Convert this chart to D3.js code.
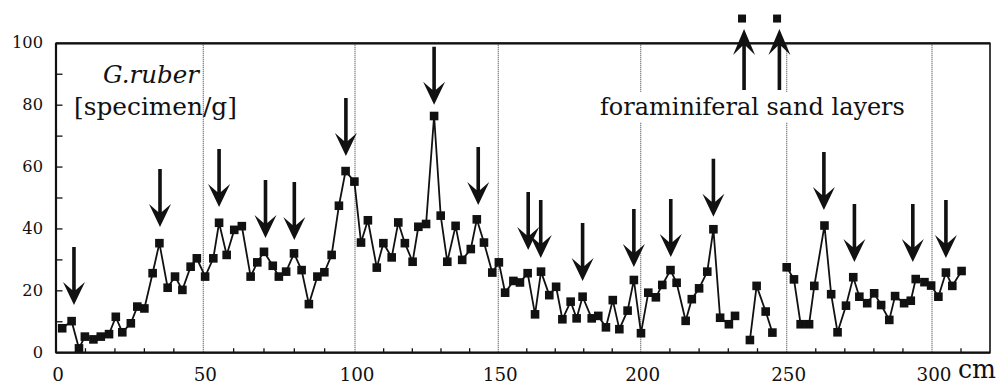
<!DOCTYPE html>
<html>
<head>
<meta charset="utf-8">
<script src="https://cdn.jsdelivr.net/npm/d3@7/dist/d3.min.js"></script>
<style>
  html, body { margin: 0; padding: 0; background: #fff; }
  svg { display: block; }
  text { font-family: "DejaVu Serif", "Liberation Serif", serif; fill: #111; }
</style>
</head>
<body>
<svg id="chart" width="1003" height="385"></svg>
<script>
// ---- data (depth in cm, G. ruber specimens per gram) ----
const depth = [2.1,5.3,7.8,9.8,12.7,15.2,18.0,20.3,22.5,25.4,27.6,30.0,32.8,35.1,37.9,40.4,42.9,45.7,47.8,
  50.6,53.3,55.2,57.7,60.2,62.7,65.6,67.8,70.0,72.9,74.9,77.3,79.9,82.4,84.8,87.6,89.9,92.3,94.7,96.9,99.8,
  102.1,104.5,107.6,109.9,112.8,115.1,117.4,120.1,122.1,124.8,127.6,129.9,132.2,135.1,137.4,140.4,142.5,145.0,147.9,
  150.2,152.4,155.3,157.6,160.3,162.9,165.0,167.9,170.3,172.5,175.4,177.5,179.6,182.8,185.1,187.8,190.2,192.5,195.4,197.6,200.1,
  202.6,205.2,207.4,210.2,212.3,215.4,217.5,220.0,222.8,224.9,227.2,230.2,232.3,234.7,237.4,239.7,242.8,245.1,246.7,
  250.0,252.5,254.8,257.7,259.5,263.0,265.3,267.5,270.4,272.9,275.0,277.7,280.1,282.5,285.3,287.3,290.4,292.7,294.4,297.4,299.7,
  302.2,304.8,307.0,310.2];
const ruber = [7.9,10.2,1.4,5.2,4.3,5.2,6.0,11.6,6.6,9.5,14.9,14.3,25.7,35.4,21.0,24.6,20.3,27.8,30.5,
  24.6,30.5,42.0,31.6,39.7,40.9,24.6,29.2,32.6,28.1,24.6,26.2,32.1,26.7,15.7,24.6,26.0,31.6,47.5,58.7,55.3,
  35.6,42.8,27.5,35.4,30.8,42.1,35.4,29.4,40.7,41.6,76.5,44.3,29.4,41.0,30.0,33.5,43.1,35.6,25.9,
  29.2,19.4,23.2,22.7,25.7,12.4,26.2,18.6,21.3,10.8,16.5,11.1,18.1,11.1,11.9,8.2,17.0,7.6,13.6,23.5,6.3,
  19.4,17.9,21.9,26.7,22.6,10.3,17.3,20.8,26.2,39.9,11.3,9.2,11.9,null,4.1,21.6,13.3,6.5,null,
  27.6,23.7,9.2,9.2,21.6,41.1,18.9,6.6,15.2,24.4,18.1,16.0,19.2,15.4,10.6,18.3,16.0,16.8,23.8,22.8,21.7,
  18.1,25.9,21.6,26.4];

// peaks marked with down arrows: depth (cm) and value at arrow tip
const arrowDepth = [6.1,35.3,55.2,70.5,80.0,97.0,127.6,143.0,160.5,164.9,179.6,197.6,210.3,224.9,262.8,273.3,293.4,304.8];
const arrowTip   = [15.4,40.6,47.1,37.1,36.4,63.6,80.1,47.7,33.2,30.6,23.2,27.7,30.9,43.9,46.1,29.3,29.3,30.6];

// foraminiferal sand layers (off-scale values)
const sandDepth = [234.7, 246.7];
const sandArrowDepth = [235.4, 247.5];
const sandMarkerValue = 108;
const sandArrowTip = 104.6;
const sandArrowBase = 84.9;

const xTickValues = [0, 50, 100, 150, 200, 250, 300];
const yTickValues = [0, 20, 40, 60, 80, 100];
const gridValues = [50, 100, 150, 200, 250, 300];

// ---- scales ----
const svg = d3.select("#chart");
const x = d3.scaleLinear()
  .domain([0, 50, 100, 150, 200, 250, 300, 320])
  .range([56, 203.3, 355, 498.3, 640.7, 786.7, 932, 990]);
const y = d3.scaleLinear().domain([0, 100]).range([352.7, 43.3]);

const X0 = x(0), X1 = x(320), Y0 = y(0), Y1 = y(100);

// grid lines
svg.append("g").selectAll("line").data(gridValues).join("line")
  .attr("x1", d => x(d)).attr("x2", d => x(d))
  .attr("y1", Y1).attr("y2", Y0)
  .attr("stroke", "#555").attr("stroke-width", 1.2)
  .attr("stroke-dasharray", "1,1");

// text helper with width fitting
function fitText(sel, target, base) {
  sel.style("font-size", base + "px");
  const w = sel.node().getComputedTextLength();
  sel.style("font-size", (base * target / w).toFixed(2) + "px");
  return sel;
}

// annotation label with white background (interrupts grid lines)
const sandLabel = svg.append("g");
sandLabel.append("rect").attr("x", 598).attr("y", 92).attr("width", 312).attr("height", 30).attr("fill", "#fff");
fitText(sandLabel.append("text").attr("x", 600).attr("y", 115).text("foraminiferal sand layers"), 305, 22);

fitText(svg.append("text").attr("x", 103).attr("y", 83).style("font-style", "italic").text("G.ruber"), 96, 22);
fitText(svg.append("text").attr("x", 74).attr("y", 115).text("[specimen/g]"), 163, 22);

// frame
svg.append("rect").attr("x", X0).attr("y", Y1).attr("width", X1 - X0).attr("height", Y0 - Y1)
  .attr("fill", "none").attr("stroke", "#111").attr("stroke-width", 1.6);
svg.append("line").attr("x1", X0).attr("x2", X1).attr("y1", Y1).attr("y2", Y1)
  .attr("stroke", "#111").attr("stroke-width", 2.2);
svg.append("line").attr("x1", X0).attr("x2", X1).attr("y1", Y0).attr("y2", Y0)
  .attr("stroke", "#111").attr("stroke-width", 2.2);
svg.append("line").attr("x1", X0).attr("x2", X0).attr("y1", Y1).attr("y2", Y0)
  .attr("stroke", "#111").attr("stroke-width", 2.2);

// ticks (inward)
svg.append("g").selectAll("line").data(d3.range(10, 320, 10).filter(v => v % 50 !== 0)).join("line")
  .attr("x1", d => x(d)).attr("x2", d => x(d)).attr("y1", Y0).attr("y2", Y0 - 4.5)
  .attr("stroke", "#111").attr("stroke-width", 1.3);
svg.append("g").selectAll("line").data(d3.range(10, 100, 10)).join("line")
  .attr("x1", X0).attr("x2", X0 + 6.5).attr("y1", d => y(d)).attr("y2", d => y(d))
  .attr("stroke", "#111").attr("stroke-width", 1.3);

// y tick labels
const yLab = svg.append("g").selectAll("text").data(yTickValues).join("text")
  .attr("x", 43).attr("y", d => y(d) + 5).attr("text-anchor", "end").text(d => d);
{
  const t = yLab.filter(d => d === 100);
  t.style("font-size", "16px");
  const w = t.node().getComputedTextLength();
  yLab.style("font-size", (16 * 31 / w).toFixed(2) + "px");
}
// x tick labels
const xLab = svg.append("g").selectAll("text").data(xTickValues).join("text")
  .attr("x", d => x(d) + 2).attr("y", 381).attr("text-anchor", "middle").text(d => d);
{
  const t = xLab.filter(d => d === 100);
  t.style("font-size", "17px");
  const w = t.node().getComputedTextLength();
  xLab.style("font-size", (17 * 35 / w).toFixed(2) + "px");
}
fitText(svg.append("text").attr("x", 958).attr("y", 378).text("cm"), 38, 20);

// data line
const pts = depth.map((d, i) => ({ d, v: ruber[i] }));
const line = d3.line().defined(p => p.v != null).x(p => x(p.d)).y(p => y(p.v));
svg.append("path").datum(pts).attr("d", line)
  .attr("fill", "none").attr("stroke", "#111").attr("stroke-width", 1.8);

const S = 8.6;
svg.append("g").selectAll("rect").data(pts.filter(p => p.v != null)).join("rect")
  .attr("x", p => x(p.d) - S / 2).attr("y", p => y(p.v) - S / 2)
  .attr("width", S).attr("height", S).attr("fill", "#111");

// sand layer markers
svg.append("g").selectAll("rect").data(sandDepth).join("rect")
  .attr("x", d => x(d) - 4).attr("y", y(sandMarkerValue) - 4)
  .attr("width", 8).attr("height", 8).attr("fill", "#111");

// arrows
const arrowLen = 58;
function downArrow(tx, ty) {
  return `M${tx},${ty} L${tx - 11},${ty - 23} L${tx - 1.8},${ty - 15} L${tx - 1.8},${ty - arrowLen} ` +
         `L${tx + 1.8},${ty - arrowLen} L${tx + 1.8},${ty - 15} L${tx + 11},${ty - 23} Z`;
}
function upArrow(tx, ty, by) {
  return `M${tx},${ty} L${tx - 11},${ty + 26} L${tx - 1.8},${ty + 17} L${tx - 1.8},${by} ` +
         `L${tx + 1.8},${by} L${tx + 1.8},${ty + 17} L${tx + 11},${ty + 26} Z`;
}
svg.append("g").selectAll("path").data(arrowDepth).join("path")
  .attr("d", (d, i) => downArrow(x(d), y(arrowTip[i])))
  .attr("fill", "#111");
svg.append("g").selectAll("path").data(sandArrowDepth).join("path")
  .attr("d", d => upArrow(x(d), y(sandArrowTip), y(sandArrowBase)))
  .attr("fill", "#111");
</script>
</body>
</html>
